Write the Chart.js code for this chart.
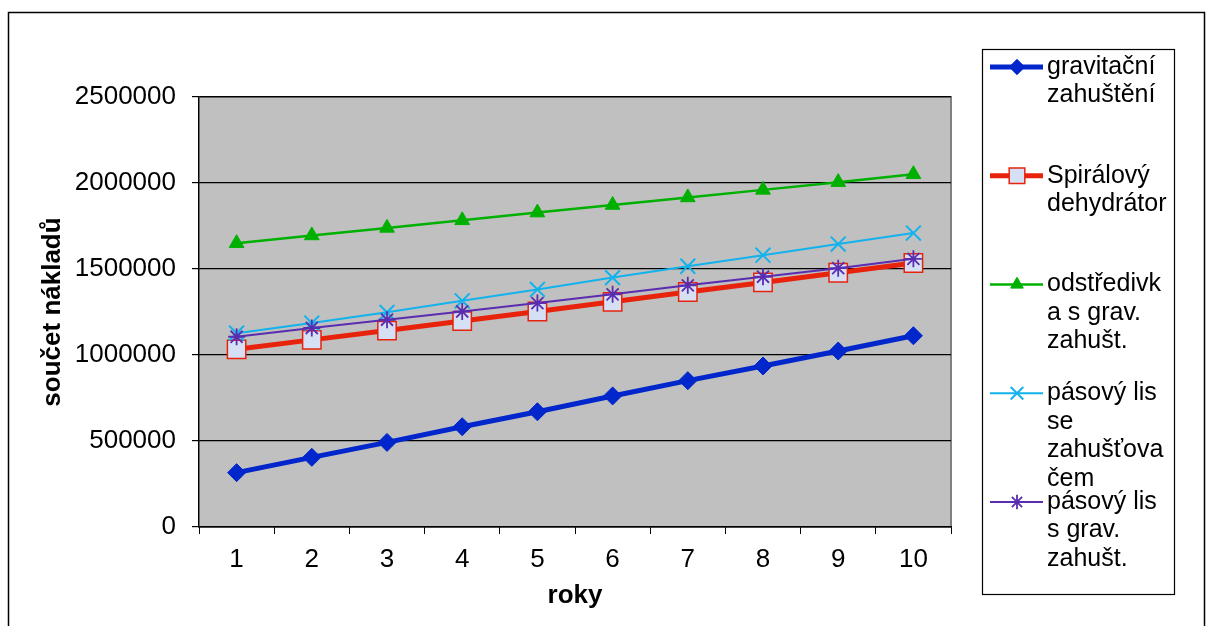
<!DOCTYPE html>
<html>
<head>
<meta charset="utf-8">
<script src="https://cdn.jsdelivr.net/npm/chart.js@4/dist/chart.umd.min.js"></script>
<style>
  html, body { margin: 0; padding: 0; background: #fff; }
  #wrap { width: 1208px; height: 626px; position: relative; overflow: hidden; }
</style>
</head>
<body>
<div id="wrap"><canvas id="costChart" width="1208" height="626"></canvas></div>
<script>
const years = ['1', '2', '3', '4', '5', '6', '7', '8', '9', '10'];

const gravitacni = [316000, 405000, 492000, 583000, 670000, 762000, 851000, 936000, 1023000, 1112000];
const spiralovy = [1033000, 1088000, 1142000, 1198000, 1253000, 1309000, 1366000, 1422000, 1478000, 1535000];
const odstredivka = [1650000, 1695000, 1739000, 1783000, 1828000, 1872000, 1916000, 1960000, 2005000, 2051000];
const pasovySeZah = [1127000, 1186000, 1248000, 1315000, 1381000, 1450000, 1516000, 1580000, 1645000, 1709000];
const pasovyGrav = [1106000, 1157000, 1205000, 1253000, 1302000, 1353000, 1405000, 1455000, 1505000, 1559000];

const yTicks = [0, 500000, 1000000, 1500000, 2000000, 2500000];

// legend texts, wrapped as in the original
const legendNames = [
  ['gravitační', 'zahuštění'],
  ['Spirálový', 'dehydrátor'],
  ['odstředivk', 'a s grav.', 'zahušt.'],
  ['pásový lis', 'se', 'zahušťova', 'čem'],
  ['pásový lis', 's grav.', 'zahušt.']
];

const FONT = "'Liberation Sans', Arial, sans-serif";
Chart.defaults.font.family = FONT;
Chart.defaults.color = '#000';

const plotBg = {
  id: 'plotBg',
  beforeDraw(chart) {
    const { ctx, chartArea: a } = chart;
    ctx.save();
    // outer frame
    ctx.strokeStyle = '#000';
    ctx.lineWidth = 1.5;
    ctx.strokeRect(8.5, 12.5, 1196, 640);
    // plot area
    ctx.fillStyle = '#c0c0c0';
    ctx.fillRect(a.left, a.top, a.right - a.left, a.bottom - a.top);
    ctx.strokeStyle = '#808080';
    ctx.lineWidth = 2;
    ctx.strokeRect(a.left, a.top, a.right - a.left, a.bottom - a.top);
    ctx.restore();
  }
};

const sideLegend = {
  id: 'sideLegend',
  afterDraw(chart) {
    const { ctx } = chart;
    ctx.save();
    ctx.fillStyle = '#fff';
    ctx.fillRect(982, 49, 192, 545);
    ctx.strokeStyle = '#000';
    ctx.lineWidth = 1.2;
    ctx.strokeRect(982.5, 49.5, 192, 545);

    chart.data.datasets.forEach((ds, i) => {
      const y = 67 + i * 108.75;
      ctx.strokeStyle = ds.borderColor;
      ctx.lineWidth = ds.borderWidth;
      ctx.beginPath();
      ctx.moveTo(990, y);
      ctx.lineTo(1043, y);
      ctx.stroke();

      ctx.fillStyle = ds.pointBackgroundColor;
      ctx.strokeStyle = ds.pointBorderColor;
      ctx.lineWidth = ds.pointBorderWidth;
      Chart.helpers.drawPoint(ctx, {
        pointStyle: ds.pointStyle,
        radius: ds.pointRadius * 0.85,
        rotation: 0,
        borderWidth: ds.pointBorderWidth
      }, 1017, y);

      ctx.fillStyle = '#000';
      ctx.font = '25px ' + FONT;
      ctx.textAlign = 'left';
      ctx.textBaseline = 'middle';
      legendNames[i].forEach((line, k) => ctx.fillText(line, 1047, y + k * 28.5));
    });
    ctx.restore();
  }
};

new Chart(document.getElementById('costChart'), {
  type: 'line',
  data: {
    labels: years,
    datasets: [
      {
        label: legendNames[0].join(' '),
        data: gravitacni,
        borderColor: '#0026cc',
        borderWidth: 5,
        pointStyle: 'rectRot',
        pointRadius: 9,
        pointBackgroundColor: '#0026cc',
        pointBorderColor: '#0026cc',
        pointBorderWidth: 1,
        order: 5
      },
      {
        label: legendNames[1].join(' '),
        data: spiralovy,
        borderColor: '#e8230c',
        borderWidth: 5,
        pointStyle: 'rect',
        pointRadius: 13,
        pointBackgroundColor: '#d6e0f5',
        pointBorderColor: '#e8230c',
        pointBorderWidth: 1.5,
        order: 4
      },
      {
        label: legendNames[2].join(' '),
        data: odstredivka,
        borderColor: '#00b000',
        borderWidth: 2.5,
        pointStyle: 'triangle',
        pointRadius: 8.5,
        pointBackgroundColor: '#00b000',
        pointBorderColor: '#00b000',
        pointBorderWidth: 1,
        order: 3
      },
      {
        label: legendNames[3].join(' '),
        data: pasovySeZah,
        borderColor: '#12b2ec',
        borderWidth: 2,
        pointStyle: 'crossRot',
        pointRadius: 10.5,
        pointBackgroundColor: '#12b2ec',
        pointBorderColor: '#12b2ec',
        pointBorderWidth: 2,
        order: 2
      },
      {
        label: legendNames[4].join(' '),
        data: pasovyGrav,
        borderColor: '#5a2db0',
        borderWidth: 2,
        pointStyle: 'star',
        pointRadius: 8.5,
        pointBackgroundColor: '#5a2db0',
        pointBorderColor: '#5a2db0',
        pointBorderWidth: 1.8,
        order: 1
      }
    ]
  },
  options: {
    responsive: false,
    animation: false,
    devicePixelRatio: 1,
    layout: { padding: { left: 0, right: 257, top: 97, bottom: 0 } },
    plugins: {
      legend: { display: false },
      tooltip: { enabled: false }
    },
    elements: { line: { tension: 0 } },
    scales: {
      x: {
        offset: true,
        grid: { display: true, drawOnChartArea: false, drawTicks: true, tickLength: 7, color: '#000', offset: true },
        border: { display: true, color: '#000', width: 1.2 },
        ticks: { font: { size: 26 }, color: '#000', padding: 10, maxRotation: 0 },
        title: { display: true, text: 'roky', font: { size: 26, weight: 'bold' }, padding: { top: 0, bottom: 15 } },
        afterFit: s => { s.height = 99; }
      },
      y: {
        min: 0,
        max: 2500000,
        afterBuildTicks: s => { s.ticks = yTicks.map(v => ({ value: v })); },
        grid: { color: '#000', lineWidth: 1.2, tickLength: 7 },
        border: { display: true, color: '#000', width: 1.2 },
        ticks: { font: { size: 26 }, color: '#000', padding: 16, callback: v => String(v) },
        title: { display: true, text: 'součet nákladů', font: { size: 26, weight: 'bold' }, padding: { top: 37, bottom: 0 } },
        afterFit: s => { s.width = 199; }
      }
    }
  },
  plugins: [plotBg, sideLegend]
});
</script>
</body>
</html>
